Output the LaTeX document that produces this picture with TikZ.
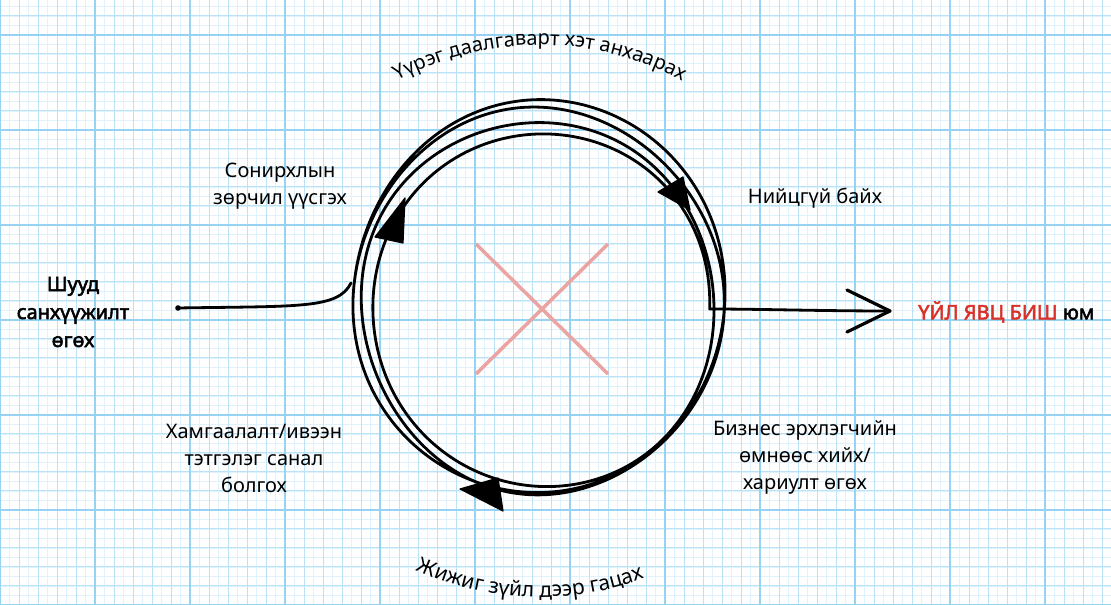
\documentclass[tikz,border=0pt]{standalone}
\usepackage{fontspec}
\setmainfont{Noto Sans}[BoldFont={Noto Sans}, BoldFeatures={FakeBold=2.5}]
\usepackage{tikz}
\usetikzlibrary{arrows.meta, calc, positioning, decorations.text}
\usepackage{xcolor}
\definecolor{gridfaint}{RGB}{224,242,252}
\definecolor{gridmid}{RGB}{186,227,247}
\definecolor{gridmajor}{RGB}{150,210,242}
\definecolor{crossred}{RGB}{234,165,162}
\definecolor{noproc}{RGB}{217,48,40}

\begin{document}
\begin{tikzpicture}[x=1pt, y=1pt,
    loopline/.style={line width=2.8pt, line cap=round, line join=round},
    lbl/.style={font=\fontsize{20}{27}\selectfont, align=center, inner sep=0pt},
    boldlbl/.style={lbl, font=\fontsize{20}{28}\selectfont\bfseries}]
    \useasboundingbox (0,0) rectangle (1111,605);

    % graph paper
    \fill[white] (0,0) rectangle (1111,605);
    \draw[gridfaint, line width=0.9pt, step=9.5pt] (0,0) grid (1111,605);
    \draw[gridmid, line width=1pt, step=19pt] (0,0) grid (1111,605);
    \draw[gridmajor, line width=1.3pt, step=95pt] (0,0) grid (1111,605);

    % crossed out centre
    \draw[crossred, line width=3.5pt] (476,361) -- (608,231);
    \draw[crossred, line width=3.5pt] (608,361) -- (476,231);

    % labels
    \node[boldlbl] (direct) at (73,293) {Шууд\\санхүүжилт\\өгөх};
    \node[lbl] (conflict) at (280,419) {Сонирхлын\\зөрчил үүсгэх};
    \node[lbl] (misfit) at (815,407) {Нийцгүй байх};
    \node[lbl] (protect) at (254,147) {Хамгаалалт/ивээн\\тэтгэлэг санал\\болгох};
    \node[lbl] (business) at (805,147) {Бизнес эрхлэгчийн\\өмнөөс хийх/\\хариулт өгөх};
    \node[boldlbl, anchor=west] (notproc) at (918,293) {\textcolor{noproc}{ҮЙЛ ЯВЦ БИШ} юм};

    \coordinate (start) at (178,297);
    \coordinate (tip) at (890,294);

    % the loops
    \fill (start) circle (2.8pt);
    \draw[loopline] (start) .. controls (300,299) and (338,296) .. (351,322)
        plot[domain=175:-1080, samples=420, smooth, variable=\a]
        ({538.5+3.5*((175-\a)/1255)+(188.5-18.5*((175-\a)/1255)+4*sin(1.7*\a))*cos(\a)},
         {305-9*((175-\a)/1255)^2+(197-29*((175-\a)/1255)^2+4*sin(1.3*\a))*sin(\a)})
        .. controls (760,296) and (820,294) .. (tip);
    \draw[line width=3.2pt, line cap=round, line join=round] (tip) -- ++(-43,21) (tip) -- ++(-43,-21);

    % arrowheads on the loops
    \fill[line join=round, draw, line width=1.2pt] (405,407) -- (375,368) -- (403,362) -- cycle;
    \fill[line join=round, draw, line width=1.2pt] (690,395) -- (658,413) -- (683,428) -- cycle;
    \fill[line join=round, draw, line width=1.2pt] (460,116) -- (498,127) -- (503,94) -- cycle;

    % curved texts
    \path[decorate, decoration={text along path, text align=center,
        text={|\fontsize{20}{24}\selectfont|Үүрэг даалгаварт хэт анхаарах}}]
        (540,260) ++(150:300) arc[start angle=150, end angle=30, radius=300];
    \path[decorate, decoration={text along path, text align=center,
        text={|\fontsize{21}{24}\selectfont|Жижиг зүйл дээр гацах}}]
        (540,310) ++(238:302) arc[start angle=238, end angle=298, radius=302];
\end{tikzpicture}
\end{document}
